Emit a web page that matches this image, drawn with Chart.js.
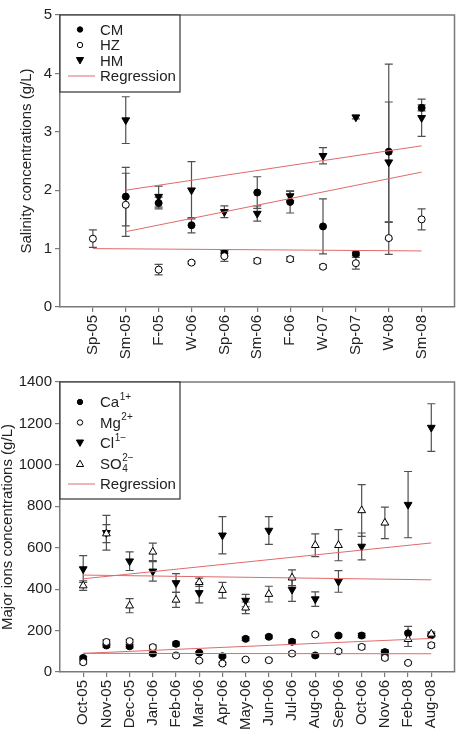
<!DOCTYPE html>
<html>
<head>
<meta charset="utf-8">
<script src="https://cdn.jsdelivr.net/npm/chart.js@4/dist/chart.umd.min.js"></script>
<style>
  body { margin: 0; background: #fff; }
  canvas { display: block; }
</style>
</head>
<body>
<canvas id="salinityChart" width="460" height="368"></canvas>
<canvas id="ionsChart" width="460" height="368"></canvas>
<script>
// top panel: salinity by season
const seasons = ['Sp-05', 'Sm-05', 'F-05', 'W-06', 'Sp-06', 'Sm-06', 'F-06', 'W-07', 'Sp-07', 'W-08', 'Sm-08'];
const cmValues = [null, 1.89, 1.78, 1.40, 0.92, 1.96, 1.80, 1.38, 0.91, 2.66, 3.41];
const cmErrors = [null, 0.50, 0.10, 0.13, 0.05, 0.27, 0.19, 0.47, 0.03, 1.50, 0.05];
const hzValues = [1.17, 1.75, 0.64, 0.76, 0.87, 0.79, 0.82, 0.69, 0.75, 1.18, 1.50];
const hzErrors = [0.15, 0.54, 0.09, 0.02, 0.09, 0.04, 0.04, 0.03, 0.10, 0.28, 0.18];
const hmValues = [null, 3.20, 1.89, 2.00, 1.63, 1.60, 1.90, 2.59, 3.25, 2.48, 3.24];
const hmErrors = [null, 0.40, 0.18, 0.49, 0.10, 0.13, 0.08, 0.14, 0.03, 1.03, 0.32];
// regression end points [index, value]
const regHM = [[1, 2.00], [10, 2.76]];
const regCM = [[1, 1.29], [10, 2.31]];
const regHZ = [[0, 1.00], [10, 0.96]];
const salinityTicks = [0, 1, 2, 3, 4, 5];

// bottom panel: major ions by month
const months = ['Oct-05', 'Nov-05', 'Dec-05', 'Jan-06', 'Feb-06', 'Mar-06', 'Apr-06', 'May-06',
  'Jun-06', 'Jul-06', 'Aug-06', 'Sep-06', 'Oct-06', 'Nov-06', 'Feb-08', 'Aug-08'];
const caValues = [68, 128, 124, 89, 136, 93, 76, 160, 170, 146, 80, 176, 176, 96, 187, 178];
const caErrors = [8, 8, 8, 6, 10, 6, 6, 8, 8, 10, 6, 6, 10, 12, 33, 8];
const mgValues = [47, 145, 149, 120, 80, 55, 41, 60, 57, 89, 181, 100, 121, 68, 44, 129];
const mgErrors = [8, 10, 8, 10, 6, 5, 5, 5, 5, 8, 6, 8, 10, 8, 6, 10];
const clValues = [497, 672, 535, 486, 430, 382, 660, 345, 683, 398, 352, 437, 606, 90, 808, 1180];
const clErrors = [65, 84, 45, 47, 45, 48, 90, 30, 67, 57, 35, 52, 65, 10, 160, 115];
const so4Values = [417, 668, 320, 580, 348, 433, 395, 310, 376, 455, 612, 612, 780, 720, 158, 184];
const so4Errors = [23, 43, 34, 42, 36, 20, 38, 28, 38, 38, 55, 75, 125, 76, 35, 10];
const regCl = [[0, 468], [15, 445]];
const regSO4 = [[0, 450], [15, 623]];
const regCa = [[0, 90], [15, 162]];
const regMg = [[0, 90], [15, 88]];
const ionTicks = [0, 200, 400, 600, 800, 1000, 1200, 1400];

const FONT = 'Liberation Sans, Arial, sans-serif';
const TEXT = '#222';
const FRAME = '#7a7a7a';
const RED = '#e06a6a';

function points(values) {
  return values.map((v, i) => ({ x: i, y: v })).filter(p => p.y !== null);
}

function markerSet(label, values, errors, style) {
  const filled = style.fill;
  return {
    type: 'scatter',
    label: label,
    data: points(values),
    errors: errors.filter(e => e !== null),
    pointStyle: style.shape === 'circle' ? 'circle' : 'triangle',
    rotation: style.shape === 'down' ? 180 : 0,
    pointRadius: style.radius,
    pointBackgroundColor: filled ? '#000' : '#fff',
    pointBorderColor: '#000',
    pointBorderWidth: 1,
    pointHoverRadius: style.radius
  };
}

function regLine(ends) {
  return {
    type: 'line',
    data: ends.map(p => ({ x: p[0], y: p[1] })),
    borderColor: RED,
    borderWidth: 1,
    pointRadius: 0,
    fill: false
  };
}

// vertical error bars with caps, drawn under the markers
const errorBars = {
  id: 'errorBars',
  beforeDatasetsDraw(chart) {
    const ctx = chart.ctx;
    const xs = chart.scales.x, ys = chart.scales.y;
    ctx.save();
    ctx.strokeStyle = '#505050';
    ctx.lineWidth = 1.2;
    chart.data.datasets.forEach(ds => {
      if (!ds.errors) return;
      ds.data.forEach((p, i) => {
        const e = ds.errors[i];
        if (!e) return;
        const x = xs.getPixelForValue(p.x);
        const y1 = ys.getPixelForValue(p.y + e);
        const y2 = ys.getPixelForValue(p.y - e);
        ctx.beginPath();
        ctx.moveTo(x, y1); ctx.lineTo(x, y2);
        ctx.moveTo(x - 4, y1); ctx.lineTo(x + 4, y1);
        ctx.moveTo(x - 4, y2); ctx.lineTo(x + 4, y2);
        ctx.stroke();
      });
    });
    ctx.restore();
  }
};

// top and right edges of the plot frame
const frame = {
  id: 'frame',
  afterDraw(chart) {
    const a = chart.chartArea, ctx = chart.ctx;
    ctx.save();
    ctx.strokeStyle = FRAME;
    ctx.lineWidth = 1.5;
    ctx.beginPath();
    ctx.moveTo(a.left, a.top); ctx.lineTo(a.right, a.top); ctx.lineTo(a.right, a.bottom);
    ctx.stroke();
    ctx.restore();
  }
};

function drawMarker(ctx, shape, filled, x, y) {
  ctx.beginPath();
  if (shape === 'circle') {
    ctx.arc(x, y, 2.7, 0, Math.PI * 2);
  } else if (shape === 'down') {
    ctx.moveTo(x - 3.6, y - 3); ctx.lineTo(x + 3.6, y - 3); ctx.lineTo(x, y + 3.4); ctx.closePath();
  } else {
    ctx.moveTo(x - 3.6, y + 3); ctx.lineTo(x + 3.6, y + 3); ctx.lineTo(x, y - 3.4); ctx.closePath();
  }
  ctx.fillStyle = filled ? '#000' : '#fff';
  ctx.fill();
  ctx.strokeStyle = '#000';
  ctx.lineWidth = 1;
  ctx.stroke();
}

// boxed legend in the upper-left corner of the plot
const boxLegend = {
  id: 'boxLegend',
  afterDraw(chart, args, opts) {
    const a = chart.chartArea, ctx = chart.ctx;
    const left = a.left, top = a.top;
    const w = opts.width, h = opts.height;
    ctx.save();
    ctx.fillStyle = '#fff';
    ctx.fillRect(left, top, w, h);
    ctx.strokeStyle = '#333';
    ctx.lineWidth = 1.2;
    ctx.strokeRect(left, top, w, h);
    ctx.textBaseline = 'middle';
    opts.items.forEach((it, i) => {
      const y = top + opts.first + i * opts.step;
      if (it.shape === 'line') {
        ctx.strokeStyle = RED;
        ctx.lineWidth = 1;
        ctx.beginPath();
        ctx.moveTo(left + 8, y); ctx.lineTo(left + 35, y);
        ctx.stroke();
      } else {
        drawMarker(ctx, it.shape, it.filled, left + 20, y);
      }
      ctx.fillStyle = TEXT;
      ctx.font = '15px ' + FONT;
      ctx.textAlign = 'left';
      let x = left + 40;
      ctx.fillText(it.text, x, y + 1);
      x += ctx.measureText(it.text).width + 0.5;
      ctx.font = '10px ' + FONT;
      if (it.sub) ctx.fillText(it.sub, x, y + 6);
      if (it.sup) ctx.fillText(it.sup, x, y - 5);
    });
    ctx.restore();
  }
};

function baseOptions(labels, yTicks, yTitle, titlePad, padTop, xHeight, legend) {
  const last = labels.length - 1;
  return {
    responsive: false,
    animation: false,
    devicePixelRatio: 1,
    layout: { padding: { top: padTop, right: 3, left: 0, bottom: 0 } },
    plugins: {
      legend: { display: false },
      tooltip: { enabled: false },
      boxLegend: legend
    },
    scales: {
      x: {
        type: 'linear',
        min: -1,
        max: labels.length,
        afterBuildTicks: s => { s.ticks = labels.map((l, i) => ({ value: i })); },
        afterFit: s => { s.height = xHeight; },
        ticks: {
          autoSkip: false,
          minRotation: 90,
          maxRotation: 90,
          padding: 3,
          color: TEXT,
          font: { family: FONT, size: 15 },
          callback: v => (v >= 0 && v <= last ? labels[v] : '')
        },
        grid: { drawOnChartArea: false, drawTicks: true, tickLength: 5, color: FRAME, lineWidth: 1.2 },
        border: { display: true, color: FRAME, width: 1.5 }
      },
      y: {
        min: yTicks[0],
        max: yTicks[yTicks.length - 1],
        afterBuildTicks: s => { s.ticks = yTicks.map(v => ({ value: v })); },
        afterFit: s => { s.width = 60; },
        ticks: { padding: 3, color: TEXT, font: { family: FONT, size: 15 }, callback: v => String(v) },
        grid: { drawOnChartArea: false, drawTicks: true, tickLength: 5, color: FRAME, lineWidth: 1.2 },
        border: { display: true, color: FRAME, width: 1.5 },
        title: {
          display: true,
          text: yTitle,
          color: TEXT,
          font: { family: FONT, size: 15 },
          padding: { top: titlePad, bottom: 0 }
        }
      }
    }
  };
}

new Chart(document.getElementById('salinityChart').getContext('2d'), {
  type: 'scatter',
  data: {
    datasets: [
      regLine(regHM), regLine(regCM), regLine(regHZ),
      markerSet('HZ', hzValues, hzErrors, { shape: 'circle', fill: false, radius: 3.5 }),
      markerSet('CM', cmValues, cmErrors, { shape: 'circle', fill: true, radius: 3.5 }),
      markerSet('HM', hmValues, hmErrors, { shape: 'down', fill: true, radius: 4.5 })
    ]
  },
  options: baseOptions(seasons, salinityTicks, 'Salinity concentrations (g/L)', 18, 15, 61, {
    width: 120, height: 77, first: 14.5, step: 15.5,
    items: [
      { shape: 'circle', filled: true, text: 'CM' },
      { shape: 'circle', filled: false, text: 'HZ' },
      { shape: 'down', filled: true, text: 'HM' },
      { shape: 'line', text: 'Regression' }
    ]
  }),
  plugins: [errorBars, frame, boxLegend]
});

new Chart(document.getElementById('ionsChart').getContext('2d'), {
  type: 'scatter',
  data: {
    datasets: [
      regLine(regCl), regLine(regSO4), regLine(regCa), regLine(regMg),
      markerSet('Mg', mgValues, mgErrors, { shape: 'circle', fill: false, radius: 3.5 }),
      markerSet('SO4', so4Values, so4Errors, { shape: 'up', fill: false, radius: 4.5 }),
      markerSet('Ca', caValues, caErrors, { shape: 'circle', fill: true, radius: 3.5 }),
      markerSet('Cl', clValues, clErrors, { shape: 'down', fill: true, radius: 4.5 })
    ]
  },
  options: baseOptions(months, ionTicks, 'Major ions concentrations (g/L)', -1, 14, 64, {
    width: 120, height: 117, first: 20, step: 20.5,
    items: [
      { shape: 'circle', filled: true, text: 'Ca', sup: '1+' },
      { shape: 'circle', filled: false, text: 'Mg', sup: '2+' },
      { shape: 'down', filled: true, text: 'Cl', sup: '1\u2212' },
      { shape: 'up', filled: false, text: 'SO', sub: '4', sup: '2\u2212' },
      { shape: 'line', text: 'Regression' }
    ]
  }),
  plugins: [errorBars, frame, boxLegend]
});
</script>
</body>
</html>
